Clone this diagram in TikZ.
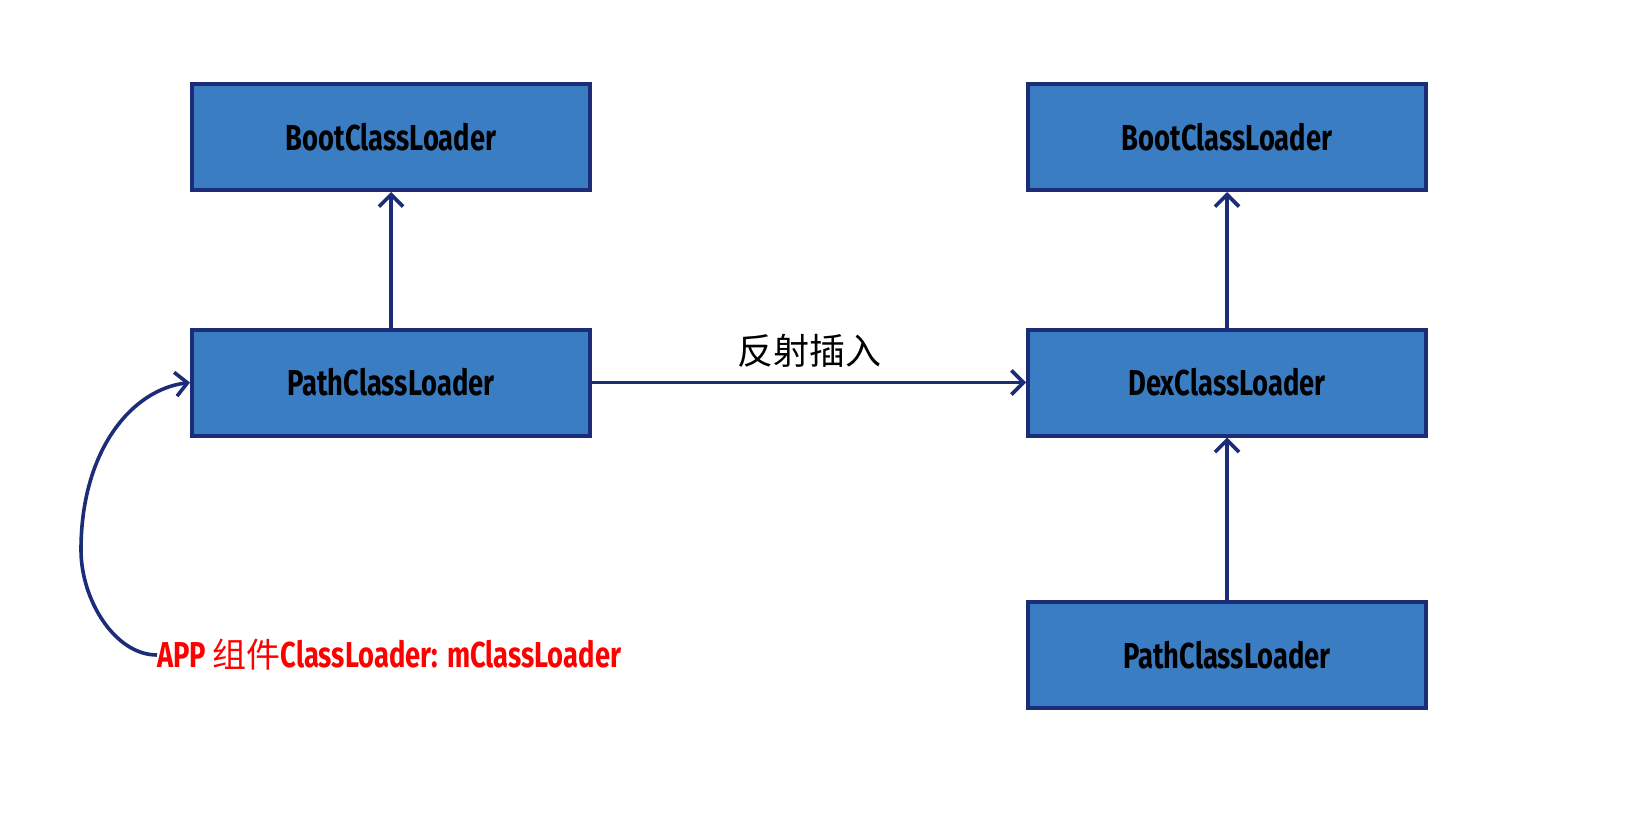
\documentclass[tikz,border=0pt]{standalone}
\usepackage{fontspec}
\usetikzlibrary{arrows.meta}
\newfontfamily\handfont[FakeStretch=0.76]{Fira Sans}
\newfontfamily\cjkfont{Noto Sans CJK SC}
\definecolor{boxfill}{RGB}{59,125,195}
\definecolor{boxline}{RGB}{27,44,120}
\definecolor{lblred}{RGB}{255,0,0}
\tikzset{
  loader/.style={draw=boxline, fill=boxfill, line width=4pt,
    minimum width=398pt, minimum height=106pt, inner sep=0pt,
    font=\handfont\bfseries\fontsize{36}{42}\selectfont},
  conn/.style={draw=boxline, line width=3.6pt,
    -{Straight Barb[length=12pt,width=24pt,line width=3.6pt]}}
}
\begin{document}
\begin{tikzpicture}[x=1pt,y=-1pt]
\fill[white] (0,0) rectangle (1646,826);
\useasboundingbox (0,0) rectangle (1646,826);
\node[loader] (bootL) at (391,137) {BootClassLoader};
\node[loader] (pathL) at (391,382.5) {PathClassLoader};
\node[loader] (bootR) at (1227,137) {BootClassLoader};
\node[loader] (dexR) at (1227,382.5) {DexClassLoader};
\node[loader] (pathR) at (1227,655) {PathClassLoader};
\node[anchor=west, inner sep=0pt, text=lblred] (lbl) at (157,655)
  {\handfont\bfseries\fontsize{36}{42}\selectfont APP {\cjkfont\mdseries\fontsize{34}{40}\selectfont 组件}ClassLoader: mClassLoader};
\coordinate (bend) at (81,550);
\draw[conn] (pathL) -- (bootL);
\draw[conn] (pathR) -- (dexR);
\draw[conn] (dexR) -- (bootR);
\draw[conn] (pathL.east) -- node[midway, above=13pt, inner sep=0pt, font=\cjkfont\fontsize{36}{42}\selectfont] (ins) {反射插入} (dexR.west);
\draw[conn] (lbl.west) .. controls +(-42,0) and +(0,50) .. (bend) .. controls +(0,-100) and +(-58,7) .. (pathL.west);
\end{tikzpicture}
\end{document}
